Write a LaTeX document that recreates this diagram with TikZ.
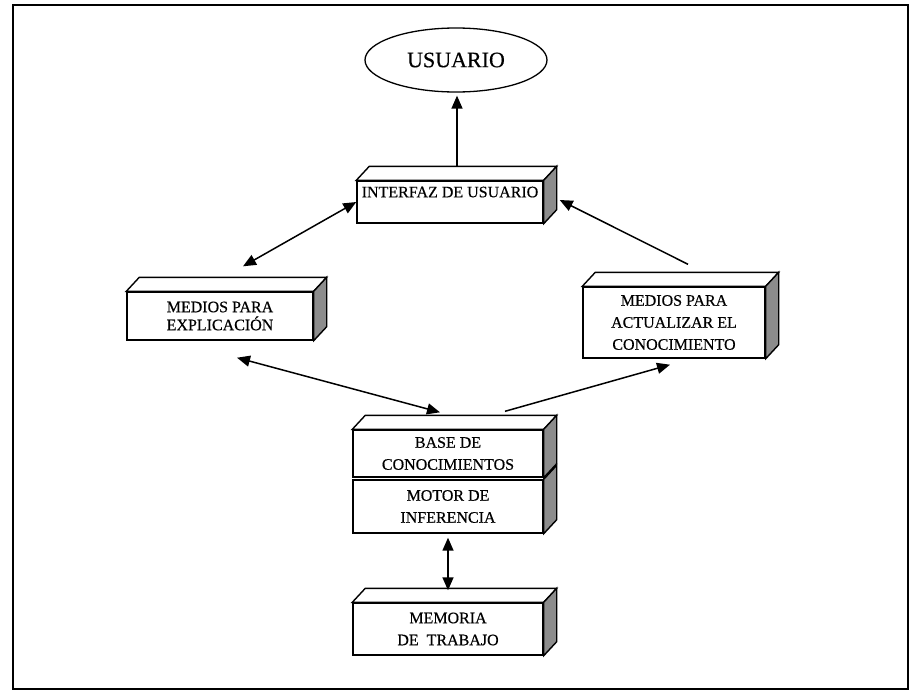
\documentclass[tikz,border=0pt]{standalone}
\usepackage{fontspec}
\setmainfont{Liberation Serif}
\newfontfamily\escan{Liberation Serif}[FakeBold=0.4]
\usetikzlibrary{shapes.geometric,arrows.meta,calc}
\tikzset{
  caja/.style={draw, fill=white, line width=1.4pt, inner sep=0pt, align=center, font=\escan\fontsize{16}{22}\selectfont},
  cara/.style={draw, line width=1.4pt, fill=white},
  lado/.style={draw, line width=1.4pt, fill=black!45},
  flecha/.style={line width=1.5pt, -{Triangle[length=13pt,width=11pt]}},
  dflecha/.style={line width=1.5pt, {Triangle[length=13pt,width=11pt]}-{Triangle[length=13pt,width=11pt]}}
}
\begin{document}
\begin{tikzpicture}[x=1pt,y=-1pt]
\useasboundingbox (0,0) rectangle (912,691);
\draw[line width=2.4pt] (13,5) rectangle (908,689);
% usuario y bloques
\node[draw, ellipse, line width=1.3pt, minimum width=182pt, minimum height=64pt, inner sep=0pt, font=\escan\fontsize{22}{24}\selectfont] (usuario) at (456,60) {USUARIO};
\node[caja, minimum width=186pt, minimum height=42pt, text depth=20pt] (interfaz) at (450,202) {INTERFAZ DE USUARIO};
\node[caja, minimum width=186pt, minimum height=48pt, font=\escan\fontsize{16}{18}\selectfont] (explic) at (220,316) {MEDIOS PARA\\EXPLICACIÓN};
\node[caja, minimum width=182pt, minimum height=71pt] (actual) at (674,322.5) {MEDIOS PARA\\ACTUALIZAR EL\\CONOCIMIENTO};
\node[caja, minimum width=190pt, minimum height=53pt] (motor) at (448,506.5) {MOTOR DE\\INFERENCIA};
\node[caja, minimum width=190pt, minimum height=47pt] (base) at (448,453.5) {BASE DE\\CONOCIMIENTOS};
\node[caja, minimum width=190pt, minimum height=52pt] (memoria) at (448,629) {MEMORIA\\DE\enspace TRABAJO};
% caras de los bloques
\foreach \n in {interfaz,explic,actual,base,memoria}
  \draw[cara] (\n.north west) -- ++(13,-14) -- ($(\n.north east)+(13,-14)$) -- (\n.north east) -- cycle;
\foreach \n in {interfaz,explic,actual,motor,base,memoria}
  \draw[lado] (\n.north east) -- ++(13,-14) -- ($(\n.south east)+(13,-14)$) -- (\n.south east) -- cycle;
% flechas
\coordinate (arriba) at ($(interfaz.north)+(7,-14)$);
\draw[flecha, shorten >=3pt] (arriba) -- (arriba |- usuario.south);
\draw[dflecha] (interfaz.west) -- ($(explic.north)+(23,-25)$);
\draw[dflecha] ($(explic.south)+(17,17)$) -- ($(base.north)+(-8,-17)$);
\draw[flecha] ($(base.north)+(57,-18)$) -- ($(actual.south)+(-4,6)$);
\draw[flecha] ($(actual.north)+(14,-22)$) -- ($(interfaz.east)+(16,-2)$);
\draw[dflecha] ($(motor.south)+(0,4)$) -- ($(memoria.north)+(0,-12)$);
\end{tikzpicture}
\end{document}
